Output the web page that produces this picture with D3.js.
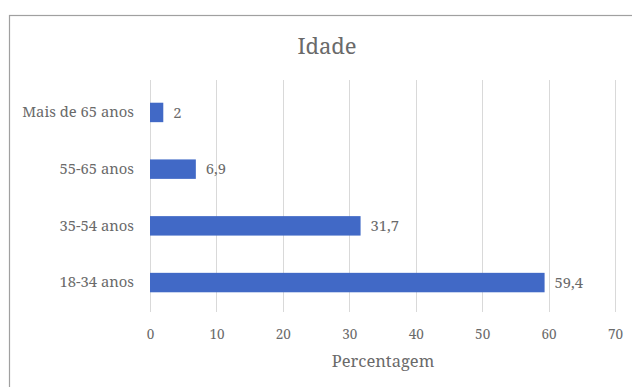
<!DOCTYPE html>
<html>
<head>
<meta charset="utf-8">
<script src="https://cdn.jsdelivr.net/npm/d3@7"></script>
</head>
<body style="margin:0; background:#fff">
<svg id="chart" width="632" height="387"></svg>
<script>
// Age groups and their share (%)
const categories = ["Mais de 65 anos", "55-65 anos", "35-54 anos", "18-34 anos"];
const values = [2, 6.9, 31.7, 59.4];
const xTicks = [0, 10, 20, 30, 40, 50, 60, 70];
const title = "Idade";
const xTitle = "Percentagem";

const FONT = "Noto Serif, DejaVu Serif, serif";
const TEXT = "#6a6a6a";

const svg = d3.select("#chart");
const plot = { left: 150, right: 615, top: 84, bottom: 311 };

// chart frame
svg.append("rect")
  .attr("x", 9.5).attr("y", 15.5)
  .attr("width", 640).attr("height", 400)
  .attr("fill", "#fff").attr("stroke", "#a0a0a0").attr("stroke-width", 1.2);

const x = d3.scaleLinear().domain([0, 70]).range([plot.left, plot.right]);
const y = d3.scaleBand().domain(categories).range([plot.top, plot.bottom])
  .paddingInner(0.657).paddingOuter(0.33);

// vertical gridlines
svg.append("g")
  .selectAll("line")
  .data(xTicks)
  .join("line")
  .attr("x1", d => Math.round(x(d)) + 0.5)
  .attr("x2", d => Math.round(x(d)) + 0.5)
  .attr("y1", 80).attr("y2", plot.bottom + 1)
  .attr("stroke", "#d9d9d9").attr("stroke-width", 1);

// x axis tick labels
const xAxis = d3.axisBottom(x).tickValues(xTicks).tickSize(0).tickPadding(0).tickFormat(d3.format("d"));
const gx = svg.append("g").attr("transform", `translate(0, 339)`).call(xAxis);
gx.attr("font-family", FONT).attr("font-size", 13.5);
gx.select(".domain").remove();
gx.selectAll("text").attr("dy", null).attr("y", 0).attr("fill", TEXT);

// y axis category labels
const yAxis = d3.axisLeft(y).tickSize(0).tickPadding(16);
const gy = svg.append("g").attr("transform", `translate(${plot.left}, 0)`).call(yAxis);
gy.attr("font-family", FONT).attr("font-size", 14.8);
gy.select(".domain").remove();
gy.selectAll("text").attr("fill", TEXT);

// bars
svg.append("g")
  .selectAll("rect")
  .data(categories)
  .join("rect")
  .attr("x", x(0))
  .attr("y", d => y(d))
  .attr("width", (d, i) => x(values[i]) - x(0))
  .attr("height", y.bandwidth())
  .attr("fill", "#4169c6");

// value labels
const fmt = v => String(v).replace(".", ",");
svg.append("g")
  .attr("font-family", FONT).attr("font-size", 14.8).attr("fill", TEXT)
  .selectAll("text")
  .data(categories)
  .join("text")
  .attr("x", (d, i) => x(values[i]) + 10)
  .attr("y", d => y(d) + y.bandwidth() / 2)
  .attr("dy", "0.35em")
  .text((d, i) => fmt(values[i]));

// chart title
svg.append("text")
  .attr("x", 327).attr("y", 54)
  .attr("text-anchor", "middle")
  .attr("font-family", FONT).attr("font-size", 22).attr("fill", TEXT)
  .text(title);

// axis title
svg.append("text")
  .attr("x", 383).attr("y", 367)
  .attr("text-anchor", "middle")
  .attr("font-family", FONT).attr("font-size", 16.5).attr("fill", TEXT)
  .text(xTitle);
</script>
</body>
</html>
